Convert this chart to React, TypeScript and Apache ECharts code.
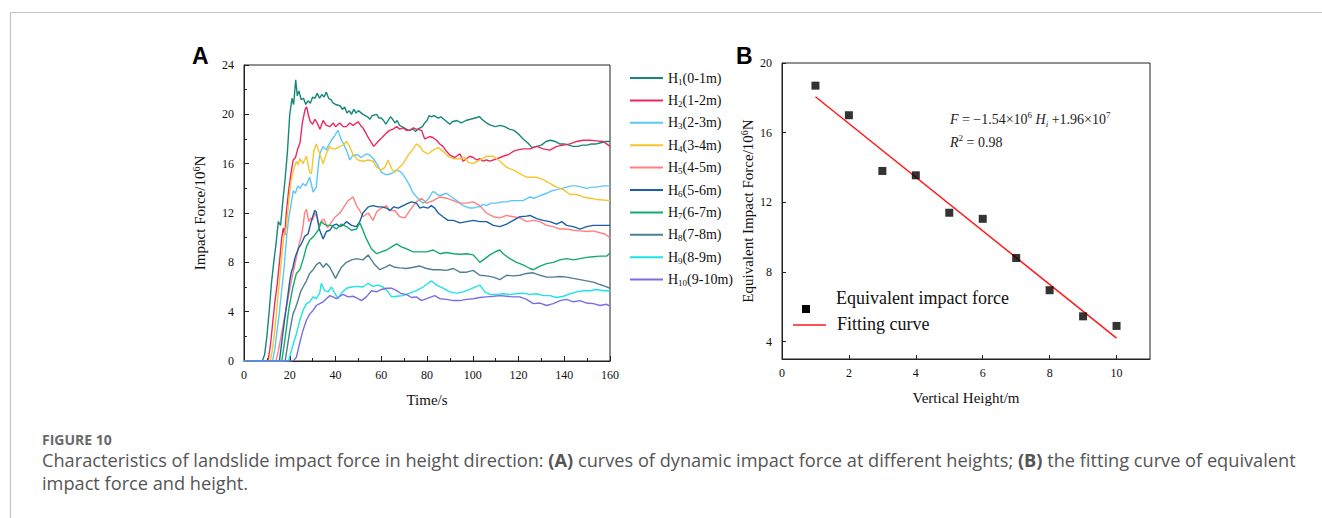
import React, { useEffect, useRef } from "react";
import * as echarts from "echarts";

// ---------- Panel A data: impact force (10^6 N) vs time (s) ----------
const seriesNames = ["H1(0-1m)", "H2(1-2m)", "H3(2-3m)", "H4(3-4m)", "H5(4-5m)", "H6(5-6m)", "H7(6-7m)", "H8(7-8m)", "H9(8-9m)", "H10(9-10m)"];
const seriesColors = ["#16877a", "#ea2a5e", "#5cc8f6", "#f6c532", "#ff8080", "#1d5ea8", "#14ab6c", "#4f7f94", "#1ee3e6", "#7a6ee2"];

const H1 = [[0,0],[8,0],[9,0.5],[10,2],[11,4],[12,6.3],[13,8],[14,9.5],[15,11.3],[16,11],[17,13],[18,14.8],[19,17],[20,20],[21,21.3],[21.7,20.8],[22.6,22.8],[23.3,21.5],[24,21.9],[25,21.2],[26,21.3],[27,20.8],[28,21.1],[29,20.9],[30,21.4],[31,21.3],[32,21.7],[33,21.3],[34,21.6],[35,21.4],[36,21.8],[37,21.3],[38,21.2],[39,20.9],[40,20.8],[42,20.7],[43,20.4],[44,20.6],[45,20.1],[46,20.3],[47,20.0],[48,20.4],[49,20.1],[50,20.3],[52,20.0],[54,19.8],[55,19.6],[56,19.9],[58,20.0],[59,19.7],[60,19.7],[61,19.5],[62,19.2],[63,19.5],[64,19.8],[65,19.6],[66,19.3],[67,19.5],[68,19.1],[70,18.9],[72,18.7],[74,18.8],[75,18.6],[76,18.8],[78,19.0],[79,19.3],[80,19.5],[81,19.9],[82,19.8],[83,19.9],[85,19.7],[86,19.8],[88,19.5],[90,19.2],[91,19.4],[93,19.5],[95,19.3],[97,19.5],[99,19.6],[101,19.7],[103,19.8],[104,19.6],[106,19.3],[108,19.1],[110,19.0],[112,19.1],[114,19.0],[116,18.8],[118,18.7],[120,18.4],[122,18.0],[124,17.7],[126,17.3],[128,17.4],[130,17.5],[132,17.8],[134,17.9],[136,17.8],[138,17.6],[140,17.6],[142,17.5],[144,17.4],[146,17.4],[148,17.5],[150,17.5],[152,17.6],[154,17.6],[156,17.7],[158,17.8],[160,17.8]];
const H2 = [[0,0],[10.5,0],[11.5,1.2],[12.5,3],[13.5,4.8],[14.5,6.2],[15.5,8],[16.5,10],[17.2,10.8],[17.8,10.2],[18.5,12],[19.5,13.8],[20.5,15.2],[21.5,16.3],[22.5,16.5],[23.5,17.2],[24.5,17.7],[25.5,19.3],[26.7,20.4],[27.4,20.6],[28.2,19.9],[29,19.4],[30,19.2],[31,19.6],[32,19.3],[33.2,18.8],[34.6,19.5],[36,19.1],[37.5,19.0],[39,19.3],[40,19.0],[41.9,19.3],[43.3,19.0],[44.8,19.0],[46.2,19.3],[47.7,19.1],[49.9,19.4],[51,19.1],[52,18.9],[53.5,18.4],[55,17.9],[56.7,17.4],[58.6,17.8],[60.8,18.2],[62.3,18.5],[63.7,18.7],[65.2,18.8],[66.7,19.0],[68.1,18.8],[69.6,18.9],[71,18.7],[72.5,18.7],[74,18.9],[75.4,18.8],[77.6,18.7],[79,18.0],[80,18.1],[81.2,18.2],[82.7,18.1],[84.2,17.9],[85.6,17.6],[87,17.4],[88.5,17.0],[90,16.7],[92.2,16.5],[94.4,16.8],[95.8,16.2],[97.3,16.4],[98.7,16.6],[100.2,16.5],[101.7,16.3],[103.1,16.4],[104.6,16.2],[106,16.3],[107.5,16.2],[109,16.3],[110.4,16.4],[112,16.5],[113.3,16.6],[115,16.7],[116.2,16.8],[117.7,17.0],[119.2,17.1],[122,17.2],[125,17.2],[128,17.4],[130.8,17.2],[133.7,17.1],[136.7,17.4],[139.6,17.5],[142.5,17.6],[145.4,17.8],[148.3,17.9],[151.3,17.9],[154.2,17.85],[157,17.8],[158.5,17.6],[160,17.4]];
const H3 = [[0,0],[12.5,0],[13.5,1],[14.5,2.5],[15.5,4],[16.5,5.8],[17.5,7.5],[18.7,10.2],[19.5,11.5],[20.5,12.6],[21.5,13.8],[22.5,13.6],[23.5,14.2],[24.5,14.0],[25.8,14.4],[27,14.2],[28.7,14.9],[29.5,14.3],[30.2,13.7],[31.6,14.1],[32.3,15.5],[33.1,16.8],[34.6,17.4],[36,17.1],[37,17.5],[38.2,17.9],[39.5,18.2],[40.4,18.5],[41.1,18.7],[42.6,17.9],[43.5,17.6],[44.8,17.1],[46.2,16.3],[47.7,16.7],[49.9,16.7],[51,16.5],[52,16.6],[53.5,16.8],[55,16.7],[56.5,16.4],[58,16.0],[60.1,15.3],[62.3,15.1],[64.5,15.2],[66.7,15.5],[68.8,15.3],[71,14.7],[72.5,14.2],[74,13.6],[75.5,13.3],[76.9,13.0],[78.3,12.8],[79.8,13.0],[81.2,13.3],[82.3,13.7],[83.4,13.7],[84.5,13.5],[85.6,13.4],[87,13.5],[88.5,13.6],[90,13.4],[91.5,13.2],[93,13.0],[94.4,12.8],[95.8,12.6],[97.3,12.5],[98.7,12.4],[100.2,12.4],[101.7,12.5],[103.1,12.5],[104.6,12.7],[106,12.6],[108,12.8],[110.4,12.8],[112.5,12.9],[114.8,12.9],[117,13.0],[119.2,13.0],[122,13.0],[125,13.3],[127,13.2],[129.4,13.4],[132.3,13.6],[134.5,13.8],[136.7,13.9],[139,14.0],[141,14.1],[143,14.2],[145.4,14.2],[147.5,14.1],[149.8,14.0],[152,14.1],[154.2,14.1],[157,14.2],[160,14.2]];
const H4 = [[0,0],[11.5,0],[12.5,1],[13.5,2.5],[14.5,4.5],[15.5,6.5],[16.5,8.5],[17.5,10.3],[18.5,10.8],[19.5,12.8],[20.5,14.5],[21.4,15.3],[22.2,15.8],[22.9,16.2],[23.6,15.9],[24.4,16.4],[25.8,16.0],[26.5,16.3],[27.3,16.6],[28.7,15.3],[29.5,15.2],[30.5,17.0],[31.6,17.6],[33.1,16.8],[34.6,16.0],[36,16.8],[37.5,17.4],[38.5,17.2],[40,17.2],[41.9,17.4],[43.3,17.5],[44.8,17.8],[46.2,17.4],[47.7,16.7],[49.9,16.3],[52,16.2],[54.3,16.3],[56.4,16.2],[58,15.7],[60.1,15.5],[61.6,15.7],[63,16.3],[64.5,15.6],[65.9,15.3],[67.4,15.6],[69.6,16.0],[71.8,16.7],[74,17.2],[75.4,17.6],[76.9,17.4],[78.3,17.0],[80.5,16.8],[82.7,17.1],[84.9,17.3],[87,17.0],[89.2,16.6],[91.5,16.4],[94.4,16.4],[96.6,16.5],[98,16.1],[100.2,16.0],[103.1,16.3],[106,16.6],[109,16.6],[111.9,16.2],[114.8,15.7],[117.7,15.5],[120.6,15.2],[123.5,14.9],[126,14.9],[128,14.9],[130.8,14.7],[133.7,14.4],[136.7,14.1],[139.6,13.9],[142.5,13.5],[145.4,13.5],[148.3,13.3],[151.3,13.2],[154.2,13.1],[157,13.05],[160,13.0]];
const H5 = [[0,0],[14,0],[15,0.8],[16,1.8],[17,2.8],[18,3.8],[19,4.8],[20,5.8],[21,6.8],[22,7.6],[23,8.5],[24,9.4],[25,10.1],[25.8,10.9],[26.5,12.0],[27.3,12.3],[28.3,11.3],[29.2,11.6],[30,11.4],[31,12.0],[32,11.6],[33,11.0],[34,11.4],[35,11.5],[36.5,10.8],[38,11.2],[40,11.7],[41.9,12.0],[43,12.3],[44,12.6],[45.5,13.0],[47.7,13.3],[49.2,12.6],[50.6,12.2],[52,11.7],[54.3,12.0],[56.4,11.4],[58,12.1],[60.1,12.4],[62.3,12.6],[63.7,12.2],[65.9,12.2],[68.1,11.7],[70.3,11.6],[72.5,12.2],[74,12.6],[75.4,12.9],[77.6,13.2],[79.8,12.8],[82.7,13.0],[85.6,13.3],[88.5,13.2],[91.5,13.0],[94.4,12.8],[97.3,12.8],[100.2,12.9],[103.1,12.6],[106,12.0],[109,11.7],[111.9,11.6],[114.8,11.8],[117.7,11.7],[120.6,11.6],[123.5,11.3],[126.5,11.4],[129.4,11.3],[132.3,11.0],[135.2,10.9],[138.1,10.7],[141,10.7],[144,10.6],[146.9,10.55],[149.8,10.5],[152.7,10.55],[155.6,10.4],[157.8,10.3],[160,10.0]];
const H6 = [[0,0],[15.5,0],[16.5,1.5],[17.5,3],[18.5,4.4],[19.3,5.5],[20,6.5],[20.7,7.2],[21.4,7.6],[22.2,8.3],[22.9,8.7],[24,9.2],[25.1,9.5],[26.5,10.1],[28,10.3],[29.5,11.4],[30.9,12.2],[31.6,12.1],[32.3,11.3],[33.1,10.6],[34.6,9.9],[36,10.5],[37.5,10.6],[38.9,11.0],[40.4,11.1],[41.9,10.9],[43.3,11.0],[44.8,11.3],[47,11.0],[49.2,10.9],[50.6,11.3],[52,12.0],[54.3,12.5],[56.4,12.6],[58.6,12.5],[60.1,12.5],[62.3,12.4],[63.7,12.2],[65.5,12.5],[67.4,12.4],[69.6,12.6],[71.8,12.8],[73.2,12.9],[75.4,12.8],[76.9,12.4],[78.3,12.5],[80.5,12.4],[81.9,12.6],[83.4,12.4],[84.9,12.0],[87,11.7],[89.2,11.4],[91.5,11.4],[94.4,11.2],[97.3,11.3],[100.2,11.4],[103.1,11.3],[106,11.3],[109,11.0],[111.9,10.9],[114.8,11.1],[117.7,11.4],[120.6,11.7],[123.5,11.75],[125,11.8],[128,11.55],[130.8,11.4],[133.7,11.3],[136.7,11.1],[138.9,11.3],[141,11.0],[144,10.9],[146.9,10.7],[149.8,10.9],[152.7,11.0],[155.6,11.0],[160,11.0]];
const H7 = [[0,0],[16.5,0],[17.5,1.2],[18.5,2.6],[19.3,3.8],[20,4.65],[21.4,6.0],[22.9,7.1],[24.4,7.4],[25.8,8.2],[27.3,9.25],[28.7,9.8],[30.9,10.2],[32.4,10.6],[33.8,11.3],[35,11.1],[36,11.0],[38.2,11.0],[40.4,10.7],[42.6,11.1],[44.8,10.9],[47,10.6],[49.2,10.7],[50.6,11.2],[52,10.6],[53.5,9.9],[55.7,9.1],[58,8.7],[60.1,8.85],[62.3,9.0],[64.5,9.25],[66.7,9.5],[68.8,9.25],[71,9.1],[74,8.85],[76.9,8.85],[79.8,8.85],[82.7,9.0],[85.6,8.7],[88.5,8.8],[91.5,8.7],[94.4,8.65],[97.3,8.7],[100.2,8.6],[101.7,8.3],[103.1,8.0],[104.6,8.2],[107.5,8.6],[110.4,8.9],[111.9,9.0],[113.3,8.7],[116.2,8.3],[119.2,8.0],[122,7.8],[125,7.5],[126.5,7.4],[129.4,7.7],[132.3,7.9],[135.2,8.0],[138.1,8.2],[141,8.3],[144,8.2],[146.9,8.3],[149.8,8.4],[152.7,8.45],[155.6,8.5],[158.5,8.5],[160,8.75]];
const H8 = [[0,0],[18,0],[19,1.2],[20,2.4],[21.4,3.8],[22.5,4.3],[23.6,4.9],[24.7,5.6],[25.8,6.0],[27.3,6.5],[28.7,7.1],[30.2,7.4],[31.6,7.8],[33.1,8.0],[34.6,7.6],[36,7.9],[37.5,7.6],[38.9,7.1],[40,6.7],[41.1,7.1],[42.6,7.6],[44.8,8.0],[47,8.2],[49.2,8.3],[52,8.2],[54.3,8.6],[55.7,8.2],[57.2,7.8],[59.4,7.4],[61.6,7.6],[63.7,7.8],[65.9,7.6],[68.1,7.55],[71,7.5],[74,7.6],[76.9,7.7],[79.8,7.5],[82.7,7.4],[85.6,7.4],[88.5,7.35],[91.5,7.5],[94.4,7.2],[97.3,7.2],[100.2,7.35],[103.1,6.95],[106,6.9],[109,6.8],[111.9,6.6],[114.8,6.95],[117.7,6.9],[120.6,6.95],[123.5,7.1],[126.5,7.15],[129.4,6.95],[132.3,6.8],[135.2,6.8],[138.1,6.85],[141,6.8],[144,6.7],[146.9,6.6],[149.8,6.5],[152.7,6.4],[155.6,6.2],[158,6.05],[160,5.9]];
const H9 = [[0,0],[19.5,0],[20.5,0.7],[21.7,1.5],[22.9,2.2],[24.4,3.3],[25.8,4.1],[27.3,4.65],[28.7,4.8],[30.2,5.2],[31.6,5.05],[33.1,5.5],[33.8,6.3],[35.3,5.7],[36.8,5.6],[38.2,6.0],[39.7,5.5],[41.1,5.05],[42.6,5.5],[44.8,5.9],[47,6.0],[49.2,6.05],[52,6.0],[54.3,6.3],[56.4,6.05],[58.6,6.15],[60.8,6.0],[63,5.6],[64.5,5.2],[66.7,5.25],[69.6,5.3],[72.5,5.5],[75.4,5.7],[78.3,6.0],[80.5,6.3],[81.9,6.5],[84.2,6.15],[87,5.9],[90,5.6],[92.9,5.5],[95.8,5.6],[98.7,5.8],[101.7,6.05],[103.1,6.15],[105.3,5.6],[107.5,5.4],[110.4,5.4],[113.3,5.45],[116.2,5.4],[119.2,5.45],[122,5.5],[125,5.4],[128,5.45],[130.8,5.3],[133.7,5.3],[136.7,5.15],[139.6,5.25],[142.5,5.45],[145.4,5.6],[148.3,5.7],[151.3,5.7],[154.2,5.8],[157,5.7],[160,5.7]];
const H10 = [[0,0],[21,0],[22,0.1],[22.9,0.3],[24.4,1.5],[25.8,2.5],[27.3,3.3],[28.7,3.8],[30.2,4.1],[31.6,4.5],[33.1,4.65],[34.6,4.8],[36,5.05],[37.5,5.3],[38.9,5.2],[40.4,5.05],[41.9,5.25],[43.3,5.4],[45.5,5.2],[47.7,5.25],[49.9,5.05],[51.3,4.9],[53.5,5.2],[55.7,5.7],[58,5.6],[60.1,5.8],[62.3,5.9],[64.5,5.9],[66.7,5.7],[68.8,5.45],[71,5.4],[73.2,5.15],[75.4,5.2],[77.6,4.9],[79.8,5.05],[81.9,5.2],[83.4,5.3],[85.6,5.05],[88.5,5.0],[91.5,4.9],[94.4,4.9],[97.3,5.0],[100.2,5.05],[103.1,5.15],[106,5.2],[109,5.25],[111.9,5.3],[114.8,5.25],[117.7,5.2],[120.6,5.2],[123.5,5.0],[126.5,4.65],[129.4,4.7],[132.3,4.5],[135.2,4.65],[138.1,4.9],[141,5.0],[144,4.8],[146.9,4.9],[149.8,4.7],[152.7,4.65],[155.6,4.5],[158.5,4.6],[160,4.45]];
const seriesData = [H1, H2, H3, H4, H5, H6, H7, H8, H9, H10];

// ---------- Panel B data ----------
const heightB = [1, 2, 3, 4, 5, 6, 7, 8, 9, 10];
const forceB = [18.7, 17.0, 13.8, 13.55, 11.4, 11.05, 8.8, 6.95, 5.45, 4.9];
const fitX = [1, 10];
const fitY = [18.06, 4.2];

const xTicksA = [0, 20, 40, 60, 80, 100, 120, 140, 160];
const yTicksA = [0, 4, 8, 12, 16, 20, 24];
const xTicksB = [0, 2, 4, 6, 8, 10];
const yTicksB = [4, 8, 12, 16, 20];

const SERIF = "'Liberation Serif', 'Times New Roman', serif";
const SANS = "'Open Sans', 'Noto Sans', sans-serif";

export default function App() {
  const ref = useRef<HTMLDivElement>(null);
  useEffect(() => {
    if (!ref.current) return;
    const chart = echarts.init(ref.current, undefined, { renderer: "svg" });
    const axisCommon = {
      axisLine: { show: true, lineStyle: { color: "#222", width: 1 } },
      splitLine: { show: false },
      axisLabel: { color: "#111", fontFamily: SERIF, fontSize: 12 },
      nameTextStyle: { color: "#111", fontFamily: SERIF, fontSize: 15 },
    };
    const richName = {
      a: { fontFamily: SERIF, fontSize: 15, color: "#111", lineHeight: 18 },
      s: { fontFamily: SERIF, fontSize: 10, color: "#111", lineHeight: 18, verticalAlign: "top" as const, padding: [0, 0, 6, 0] },
    };
    const legendRich = {
      b: { fontFamily: SERIF, fontSize: 14, color: "#111", lineHeight: 16 },
      s: { fontFamily: SERIF, fontSize: 9, color: "#111", lineHeight: 16, verticalAlign: "bottom" as const, padding: [5, 0, 0, 0] },
    };
    const option: any = {
      animation: false,
      backgroundColor: "#fff",
      grid: [
        { left: 244, top: 65, width: 366, height: 296, show: true, borderColor: "#222", borderWidth: 1, containLabel: false },
        { left: 782, top: 63, width: 368, height: 296, show: true, borderColor: "#222", borderWidth: 1, containLabel: false },
      ],
      legend: {
        orient: "vertical",
        left: 625,
        top: 66,
        itemWidth: 33,
        itemHeight: 2,
        itemGap: 7.4,
        icon: "rect",
        data: seriesNames,
        formatter: (name: string) => {
          const m = name.match(/^H(\d+)(.*)$/);
          return m ? `{b|H}{s|${m[1]}}{b|${m[2]}}` : name;
        },
        textStyle: { fontFamily: SERIF, fontSize: 14, color: "#111", padding: [0, 0, 0, 0], rich: legendRich },
        selectedMode: false,
      },
      xAxis: [
        {
          ...axisCommon,
          type: "value", gridIndex: 0, min: 0, max: 160, interval: 20,
          axisTick: { show: true, inside: true, length: 5, lineStyle: { color: "#222" } },
          minorTick: { show: true, splitNumber: 2, length: 3, lineStyle: { color: "#222" } },
          axisLabel: { ...axisCommon.axisLabel, margin: 8, customValues: xTicksA },
          name: "Time/s", nameLocation: "middle", nameGap: 31,
        },
        {
          ...axisCommon,
          type: "value", gridIndex: 1, min: 0, max: 11,
          axisTick: { show: true, inside: true, length: 4, customValues: xTicksB, lineStyle: { color: "#222" } },
          axisLabel: { ...axisCommon.axisLabel, margin: 8, customValues: xTicksB },
          name: "Vertical Height/m", nameLocation: "middle", nameGap: 31,
        },
      ],
      yAxis: [
        {
          ...axisCommon,
          type: "value", gridIndex: 0, min: 0, max: 24, interval: 4,
          axisTick: { show: true, inside: true, length: 5, lineStyle: { color: "#222" } },
          minorTick: { show: true, splitNumber: 2, length: 3, lineStyle: { color: "#222" } },
          axisLabel: { ...axisCommon.axisLabel, margin: 10, customValues: yTicksA },
          name: "{a|Impact Force/10}{s|6}{a|N}", nameLocation: "middle", nameGap: 35,
          nameTextStyle: { ...axisCommon.nameTextStyle, rich: richName },
        },
        {
          ...axisCommon,
          type: "value", gridIndex: 1, min: 3, max: 20,
          axisTick: { show: true, inside: true, length: 4, customValues: yTicksB, lineStyle: { color: "#222" } },
          axisLabel: { ...axisCommon.axisLabel, margin: 10, customValues: yTicksB },
          name: "{a|Equivalent Impact Force/10}{s|6}{a|N}", nameLocation: "middle", nameGap: 25,
          nameTextStyle: { ...axisCommon.nameTextStyle, rich: richName },
        },
      ],
      series: [
        ...seriesNames.map((name, i) => ({
          name,
          type: "line",
          xAxisIndex: 0,
          yAxisIndex: 0,
          data: seriesData[i],
          symbol: "none",
          showSymbol: false,
          lineStyle: { color: seriesColors[i], width: 1.4 },
          itemStyle: { color: seriesColors[i] },
          z: 2 + i,
        })),
        {
          name: "Equivalent impact force",
          type: "scatter",
          xAxisIndex: 1,
          yAxisIndex: 1,
          data: heightB.map((h, i) => [h, forceB[i]]),
          symbol: "rect",
          symbolSize: 8,
          itemStyle: { color: "#000" },
          z: 5,
        },
        {
          name: "Fitting curve",
          type: "line",
          xAxisIndex: 1,
          yAxisIndex: 1,
          data: fitX.map((x, i) => [x, fitY[i]]),
          symbol: "none",
          lineStyle: { color: "#ff1a1a", width: 1.5 },
          z: 4,
        },
      ],
      graphic: [
        { type: "polyline", shape: { points: [[10.5, 518], [10.5, 12.5], [1322, 12.5]] }, style: { stroke: "#c4c4c4", lineWidth: 1.2, fill: "none" }, silent: true },
        { type: "text", left: 192, top: 44, style: { text: "A", font: "bold 23px 'Liberation Sans', Arial, sans-serif", fill: "#000" } },
        { type: "text", left: 736, top: 44, style: { text: "B", font: "bold 23px 'Liberation Sans', Arial, sans-serif", fill: "#000" } },
        // Panel B legend
        { type: "rect", shape: { x: 802, y: 305, width: 8, height: 8 }, style: { fill: "#000" } },
        { type: "text", left: 836, top: 289, style: { text: "Equivalent impact force", font: `18px ${SERIF}`, fill: "#111" } },
        { type: "line", shape: { x1: 793, y1: 325, x2: 826, y2: 325 }, style: { stroke: "#ff1a1a", lineWidth: 1.5 } },
        { type: "text", left: 837, top: 315, style: { text: "Fitting curve", font: `18px ${SERIF}`, fill: "#111" } },
        // Equation
        {
          type: "text", left: 950, top: 110,
          style: {
            text: "{i|F} {n|= −1.54×10}{sp|6}{n| }{i|H}{sb|i}{n| +1.96×10}{sp|7}",
            rich: {
              i: { fontFamily: SERIF, fontStyle: "italic", fontSize: 14, lineHeight: 18, fill: "#222" },
              n: { fontFamily: SERIF, fontSize: 14, lineHeight: 18, fill: "#222" },
              sp: { fontFamily: SERIF, fontSize: 9, lineHeight: 18, verticalAlign: "top", fill: "#222" },
              sb: { fontFamily: SERIF, fontStyle: "italic", fontSize: 9, lineHeight: 18, verticalAlign: "bottom", fill: "#222" },
            },
          },
        },
        {
          type: "text", left: 950, top: 133,
          style: {
            text: "{i|R}{sp|2}{n| = 0.98}",
            rich: {
              i: { fontFamily: SERIF, fontStyle: "italic", fontSize: 14, lineHeight: 18, fill: "#222" },
              n: { fontFamily: SERIF, fontSize: 14, lineHeight: 18, fill: "#222" },
              sp: { fontFamily: SERIF, fontSize: 9, lineHeight: 18, verticalAlign: "top", fill: "#222" },
            },
          },
        },
        // Caption
        { type: "text", left: 42, top: 432, style: { text: "FIGURE 10", font: `bold 14px ${SANS}`, lineHeight: 15, fill: "#6a6a6a" } },
        {
          type: "text", left: 42, top: 451,
          style: {
            text: "{n|Characteristics of landslide impact force in height direction: }{b|(A)}{n| curves of dynamic impact force at different heights; }{b|(B)}{n| the fitting curve of equivalent}\n{n|impact force and height.}",
            rich: {
              n: { fontFamily: SANS, fontSize: 18.2, lineHeight: 23, fill: "#555" },
              b: { fontFamily: SANS, fontSize: 18.2, lineHeight: 23, fontWeight: "bold", fill: "#555" },
            },
          },
        },
      ],
    };
    chart.setOption(option);
    return () => chart.dispose();
  }, []);
  return <div ref={ref} style={{ position: "absolute", left: 0, top: 0, width: 1322, height: 518 }} />;
}
